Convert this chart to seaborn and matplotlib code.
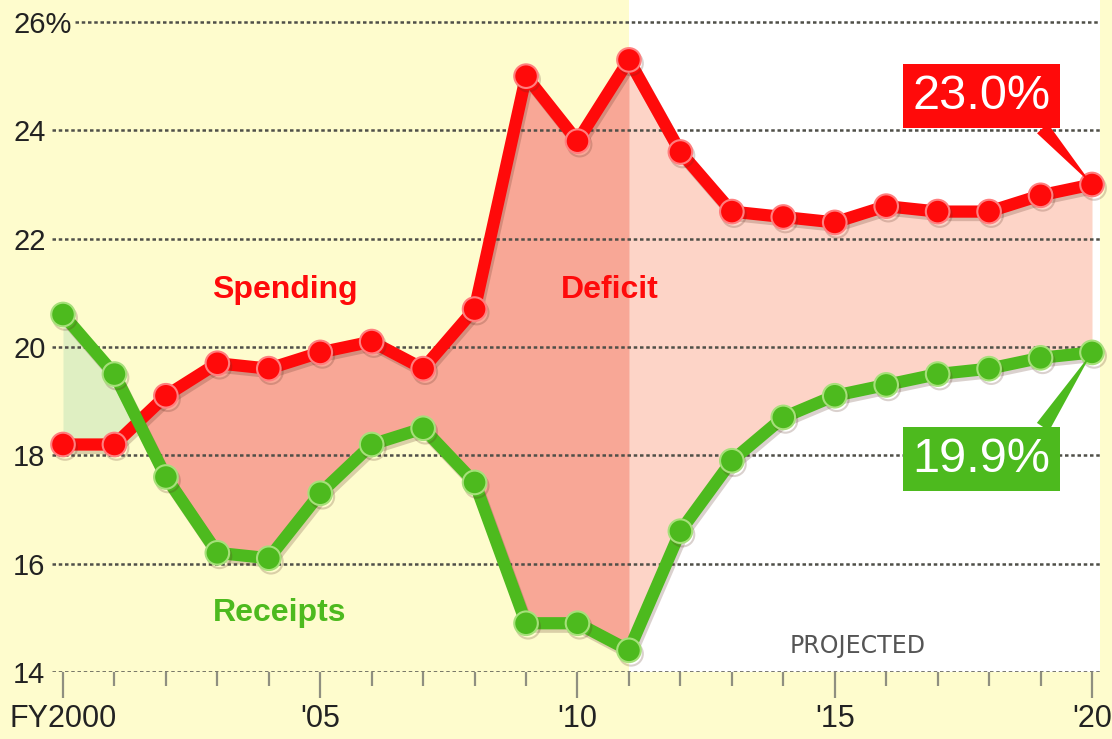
import matplotlib
matplotlib.use("Agg")
import matplotlib.pyplot as plt
import matplotlib.patheffects as pe
import numpy as np
import pandas as pd
import seaborn as sns

## Data

years = list(range(2000, 2021))
spending = [18.2, 18.2, 19.1, 19.7, 19.6, 19.9, 20.1, 19.6, 20.7, 25.0, 23.8,
            25.3, 23.6, 22.5, 22.4, 22.3, 22.6, 22.5, 22.5, 22.8, 23.0]
receipts = [20.6, 19.5, 17.6, 16.2, 16.1, 17.3, 18.2, 18.5, 17.5, 14.9, 14.9,
            14.4, 16.6, 17.9, 18.7, 19.1, 19.3, 19.5, 19.6, 19.8, 19.9]
projected_from = 2011
y_ticks = [14, 16, 18, 20, 22, 24, 26]
y_labels = ['14', '16', '18', '20', '22', '24', '26%']
x_major = [2000, 2005, 2010, 2015, 2020]
x_labels = ['FY2000', "'05", "'10", "'15", "'20"]

df = pd.DataFrame({'year': years, 'spending': spending, 'receipts': receipts})

## Colours

bg = '#FEFCCD'
red = '#FF0A0A'
green = '#4DBA1E'
deficit_fill = '#F8A796'
proj_fill = '#FDD4C7'
surplus_fill = '#DFEFC2'

plt.rcParams['font.family'] = ['Liberation Sans', 'DejaVu Sans']

fig = plt.figure(figsize=(11.12, 7.39), dpi=100, facecolor=bg)
ax = fig.add_axes([0, 67 / 739, 1100 / 1112, 672 / 739])
ax.set_facecolor(bg)

px_x = 51.45  # pixels per year
x0 = 2000 - 63 / px_x
ax.set_xlim(x0, 2020 + 8 / px_x)
ax.set_ylim(14, 26 + 22 / 54.17)

# projected period on white
ax.axvspan(projected_from, ax.get_xlim()[1], color='white', lw=0, zorder=0.5)

x = df['year'].to_numpy()
s = df['spending'].to_numpy()
r = df['receipts'].to_numpy()
ax.fill_between(x, r, s, where=(r > s), interpolate=True, color=surplus_fill, lw=0, zorder=1)
ax.fill_between(x, s, r, where=(s >= r) & (x <= projected_from), interpolate=True,
                color=deficit_fill, lw=0, zorder=1)
ax.fill_between(x, s, r, where=(x >= projected_from), color=proj_fill, lw=0, zorder=1)

# dotted gridlines, starting just right of each label
grid_start = [x0 + (75 if lab.endswith('%') else 52) / px_x for lab in y_labels]
ax.hlines(y_ticks, grid_start, ax.get_xlim()[1], color='#4f4f48',
          linestyles=[(0, (1.4, 1.1))], lw=1.8, zorder=1.5)

shadow = [pe.SimpleLineShadow(offset=(1.5, -2.5), shadow_color='#5a3020', alpha=0.22), pe.Normal()]

sns.lineplot(data=df, x='year', y='spending', ax=ax, color=red, lw=8.8, marker='o',
             markersize=17, markeredgecolor='#FF7F7F', markeredgewidth=1.5,
             zorder=3, clip_on=False)
ax.lines[-1].set_path_effects(shadow)
sns.lineplot(data=df, x='year', y='receipts', ax=ax, color=green, lw=8.8, marker='o',
             markersize=17, markeredgecolor='#A6E07A', markeredgewidth=1.5,
             zorder=3, clip_on=False)
ax.lines[-1].set_path_effects(shadow)

ax.set_xlabel('')
ax.set_ylabel('')
for sp in ax.spines.values():
    sp.set_visible(False)

# axes / ticks
ax.set_yticks(y_ticks, y_labels)
ax.tick_params(axis='y', length=0, pad=-9.4, labelsize=21, labelcolor='#222222')
for lbl in ax.get_yticklabels():
    lbl.set_horizontalalignment('left')
ax.grid(False)

ax.set_xticks(x_major, x_labels)
ax.set_xticks(years, minor=True)
ax.tick_params(axis='x', which='major', length=19, width=1.6, color='#8f8f80',
               pad=4, labelsize=22, labelcolor='#222222')
ax.tick_params(axis='x', which='minor', length=10, width=1.6, color='#8f8f80')

# labels
ax.text(2004.31, 21.05, 'Spending', color=red, fontsize=23, fontweight='bold',
        ha='center', va='center', zorder=4)
ax.text(2010.63, 21.05, 'Deficit', color=red, fontsize=23, fontweight='bold',
        ha='center', va='center', zorder=4)
ax.text(2004.22, 15.09, 'Receipts', color=green, fontsize=23, fontweight='bold',
        ha='center', va='center', zorder=4)
ax.text(2015.45, 14.48, 'PROJECTED', color='#555555', fontsize=17,
        family=['Liberation Sans Narrow', 'DejaVu Sans'], ha='center', va='center', zorder=4)

# end-value callouts
ax.annotate(f'{spending[-1]:.1f}%', xy=(years[-1], spending[-1]), xytext=(2017.85, 24.63),
            color='white', fontsize=35, ha='center', va='center', zorder=5,
            bbox=dict(boxstyle='square,pad=0.2', facecolor=red, edgecolor='none'),
            arrowprops=dict(arrowstyle='wedge,tail_width=0.3', color=red, lw=0,
                            shrinkA=0, shrinkB=0, relpos=(0.88, 0)),
            annotation_clip=False)
ax.annotate(f'{receipts[-1]:.1f}%', xy=(years[-1], receipts[-1]), xytext=(2017.85, 17.93),
            color='white', fontsize=35, ha='center', va='center', zorder=5,
            bbox=dict(boxstyle='square,pad=0.2', facecolor=green, edgecolor='none'),
            arrowprops=dict(arrowstyle='wedge,tail_width=0.3', color=green, lw=0,
                            shrinkA=0, shrinkB=0, relpos=(0.9, 1)),
            annotation_clip=False)

fig.savefig('out.png', dpi=100, facecolor=bg)
